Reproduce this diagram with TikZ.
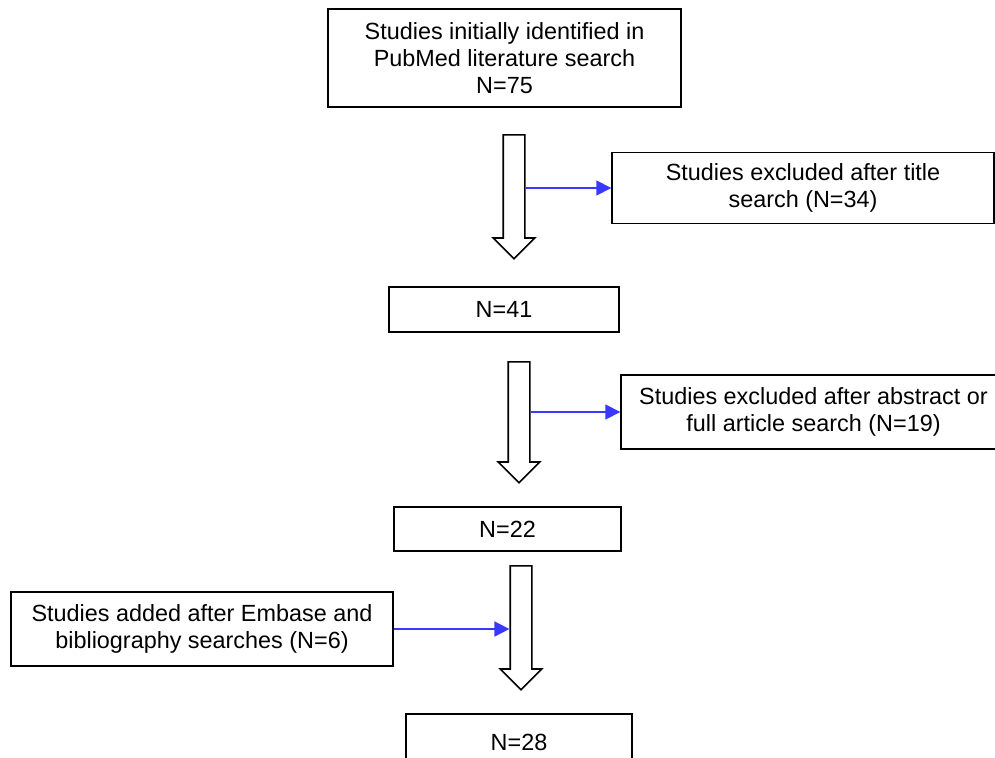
\documentclass[tikz,border=0pt]{standalone}
\usepackage{fontspec}
\setmainfont{Liberation Sans}
\usepackage{tikz}
\usetikzlibrary{shapes.arrows, arrows.meta, positioning}

\definecolor{linkblue}{RGB}{56,56,255}

\begin{document}
\begin{tikzpicture}[
    x=1pt, y=-1pt,
    font=\fontsize{23.4}{27}\selectfont,
    box/.style={draw, line width=1.4pt, align=center, inner sep=0pt},
    blockarrow/.style={draw, line width=1.6pt, shape=single arrow, rotate=-90,
        inner xsep=0pt, inner ysep=10pt, single arrow head extend=10pt,
        single arrow tip angle=90, anchor=tail},
    feed/.style={-{Triangle[length=15pt, width=15pt]}, draw=linkblue, fill=linkblue, line width=1.6pt}
]
\useasboundingbox (0,0) rectangle (995,757);
\clip (0,0) rectangle (995,757);

% 1. Boxes
\node[box, minimum width=353pt, minimum height=98pt] (init) at (504.5,58)
    {Studies initially identified in\\PubMed literature search\\N=75};
\node[box, minimum width=382pt, minimum height=71pt] (ex1) at (803,188)
    {Studies excluded after title\\search (N=34)};
\node[box, minimum width=230pt, minimum height=45pt] (n41) at (504,309.5) {N=41};
\node[box, minimum width=385pt, minimum height=74pt] (ex2) at (813.5,412)
    {Studies excluded after abstract or\\full article search (N=19)};
\node[box, minimum width=227pt, minimum height=44pt] (n22) at (507.5,529) {N=22};
\node[box, minimum width=382pt, minimum height=74pt] (add) at (202,629)
    {Studies added after Embase and\\bibliography searches (N=6)};
\node[box, minimum width=226pt, minimum height=56pt] (n28) at (519,742) {N=28};

% 2. Block arrows
\node[blockarrow, minimum height=124pt] (a1) at (514,134) {};
\node[blockarrow, minimum height=121pt] (a2) at (519,361) {};
\node[blockarrow, minimum height=124pt] (a3) at (521,565) {};

% 3. Side arrows
\draw[feed] (a1.north |- ex1.west) -- (ex1.west);
\draw[feed] (a2.north |- ex2.west) -- (ex2.west);
\draw[feed] (add.east) -- (add.east -| a3.south);

\end{tikzpicture}
\end{document}
